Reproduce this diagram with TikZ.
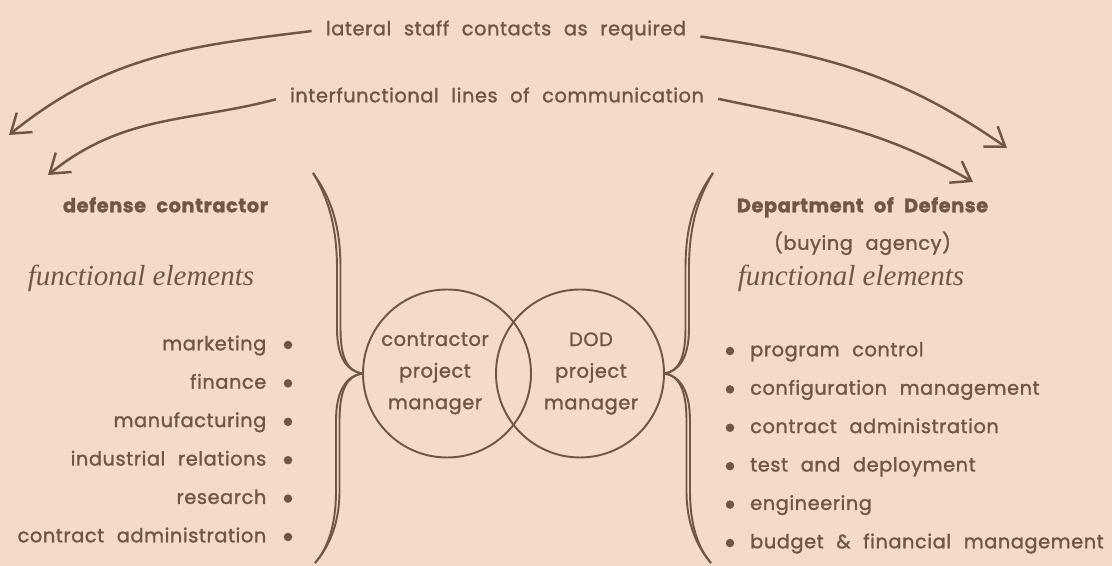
\documentclass[tikz,border=0pt]{standalone}
\usepackage{fontspec}
\setmainfont{Poppins}[FakeBold=1.4,LetterSpace=3,WordSpace=2.2]
\newfontfamily\romfont{Liberation Serif}
\usepackage{tikz}
\usetikzlibrary{arrows.meta,positioning,calc}

\definecolor{paper}{RGB}{244,219,201}
\definecolor{ink}{RGB}{112,86,68}

\begin{document}
\begin{tikzpicture}[>={Straight Barb[length=3.6mm,width=5mm]},
  lbl/.style={text=ink,font=\fontsize{11}{13}\selectfont,inner sep=3pt,
    text height=1.6ex,text depth=0.5ex},
  hd/.style={lbl,font=\fontsize{11}{13}\selectfont\bfseries},
  fe/.style={text=ink,font=\fontsize{16.5}{18}\romfont\itshape},
  dot/.style={circle,fill=ink,inner sep=0pt,minimum size=0.17cm},
  pm/.style={circle,draw=ink,line width=1.1pt,minimum size=3.36cm},
  pmtxt/.style={text=ink,align=center,font=\fontsize{11}{18}\selectfont},
  arr/.style={->,draw=ink,line width=1.4pt,shorten <=5pt},
  brace/.style={draw=ink,line width=1.1pt}]
  \useasboundingbox (0,0) rectangle (22.24,11.32);
  \fill[paper] (0,0) rectangle (22.24,11.32);

  % the two project managers
  \node[pm](cpm) at (8.94,3.85){};
  \node[pm](dpm) at (11.60,3.85){};
  \node[pmtxt](cpmt) at ($(cpm)+(-0.24,0)$){contractor\\project\\manager};
  \node[pmtxt](dpmt) at ($(dpm)+(0.22,0)$){DOD\\project\\manager};

  % braces, drawn twice so the strokes part in the middle
  \foreach \s/\tip in {1/cpm.west,-1/dpm.east}{
   \begin{scope}[xshift={(1-\s)*10.26cm},xscale=\s]
    \foreach \d in {0,0.07}{
     \draw[brace](6.26,7.86) .. controls (6.60+\d,7.30) and (6.74+\d,6.70) .. (6.74+\d,5.95)
       -- (6.74+\d,4.75) .. controls (6.74+\d,4.15) and (6.95,3.90) .. (\tip);
     \draw[brace](\tip) .. controls (6.95,3.80) and (6.72+\d,3.55) .. (6.72+\d,2.90)
       -- (6.72+\d,1.50) .. controls (6.72+\d,0.80) and (6.55,0.35) .. (6.30,0.06);
    }
   \end{scope}
  }

  % lines of communication
  \node[lbl](lat) at (10.12,10.72){lateral staff contacts as required};
  \node[lbl](inter) at (9.94,9.38){interfunctional lines of communication};
  \coordinate (tl1) at (0.18,8.62);\coordinate (tl2) at (0.96,7.82);
  \coordinate (tr1) at (20.14,8.36);\coordinate (tr2) at (19.46,7.68);
  \draw[arr](lat.west) to[out=187,in=39] (tl1);
  \draw[arr](inter.west) to[out=195,in=39] (tl2);
  \draw[arr](lat.base east) to[out=-8,in=145] (tr1);
  \draw[arr](inter.east) to[out=-12,in=150] (tr2);

  % contractor side
  \node[hd](dc) at (3.31,7.18){defense contractor};
  \node[fe](fel) at (2.82,5.76){functional elements};
  \foreach \t [count=\i] in {marketing,finance,manufacturing,industrial relations,research,contract administration}{
   \node[dot](l\i) at (5.76,{4.42-0.768*(\i-1)}){};
   \node[lbl,left=0.23cm of l\i](lt\i){\t};
  }

  % DOD side
  \node[hd](dod) at (17.25,7.18){Department of Defense};
  \node[lbl,below=0.12cm of dod](buy){(buying agency)};
  \node[fe](fer) at (17.02,5.76){functional elements};
  \foreach \t [count=\i] in {program control,configuration management,contract administration,test and deployment,engineering,budget \& financial management}{
   \node[dot](r\i) at (14.60,{4.30-0.768*(\i-1)}){};
   \node[lbl,right=0.2cm of r\i](rt\i){\t};
  }
\end{tikzpicture}
\end{document}
